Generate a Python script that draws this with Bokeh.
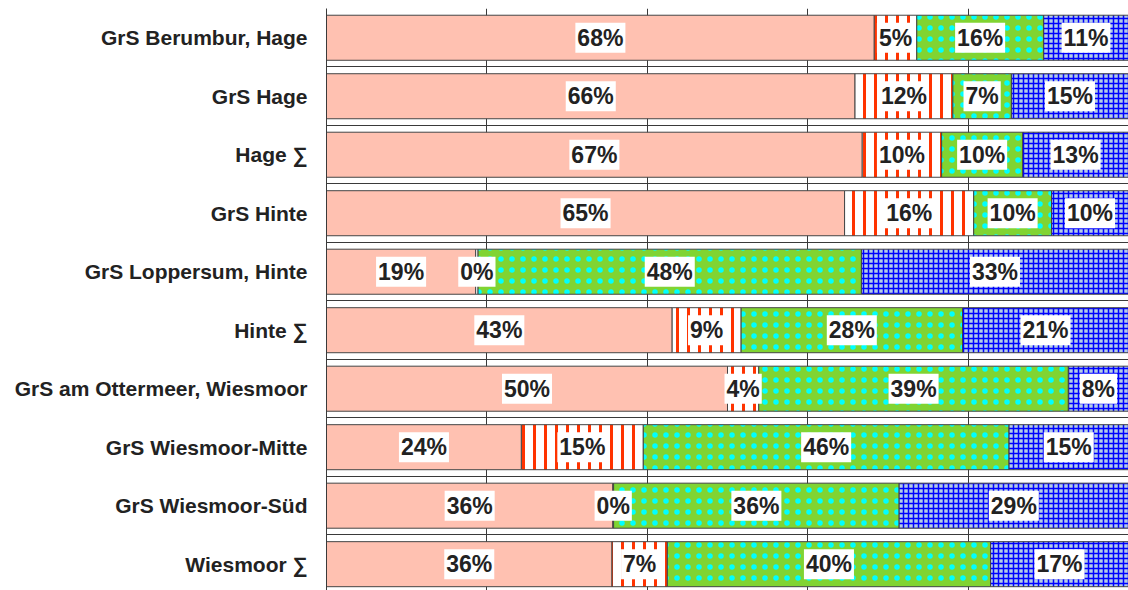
import numpy as np
from bokeh.plotting import figure
from bokeh.models import FixedTicker, Grid, ColumnDataSource
from bokeh.core.properties import value
from bokeh.embed import file_html
from bokeh.resources import INLINE

categories = [
    "GrS Berumbur, Hage",
    "GrS Hage",
    "Hage \u2211",
    "GrS Hinte",
    "GrS Loppersum, Hinte",
    "Hinte \u2211",
    "GrS am Ottermeer, Wiesmoor",
    "GrS Wiesmoor-Mitte",
    "GrS Wiesmoor-S\u00fcd",
    "Wiesmoor \u2211",
]
seg1 = [68.3, 65.9, 66.8, 64.6, 18.6, 43.1, 50.0, 24.3, 35.7, 35.6]
seg2 = [5.3, 12.2, 9.9, 16.1, 0.3, 8.6, 3.9, 15.2, 0.1, 6.9]
seg3 = [15.8, 7.3, 10.1, 9.7, 47.8, 27.6, 38.6, 45.6, 35.6, 40.3]
seg4 = [10.6, 14.6, 13.2, 9.6, 33.3, 20.7, 7.5, 14.9, 28.6, 17.2]

n = len(categories)
ypos = np.array([n - 0.5 - i for i in range(n)])

p = figure(width=1128, height=590, x_range=(0, 100), y_range=(0.05, n),
           output_backend="svg", toolbar_location=None,
           min_border_left=326, min_border_right=0, min_border_top=8, min_border_bottom=0)
p.outline_line_color = None
p.background_fill_color = "white"
p.xaxis.visible = False

grid_color = "#3a3a3a"
p.xgrid.ticker = FixedTicker(ticks=[20, 40, 60, 80, 100])
p.xgrid.grid_line_color = grid_color
p.xgrid.grid_line_width = 1
p.ygrid.grid_line_color = None
p.add_layout(Grid(dimension=1, ticker=FixedTicker(ticks=list(range(n + 1))),
                  grid_line_color=grid_color, grid_line_width=1))

yax = p.yaxis[0]
yax.ticker = FixedTicker(ticks=list(ypos))
yax.major_label_overrides = {float(y): c for y, c in zip(ypos, categories)}
yax.major_tick_out = 0
yax.major_tick_in = 0
yax.minor_tick_out = 0
yax.minor_tick_in = 0
yax.major_label_standoff = 19
yax.axis_line_color = grid_color
yax.major_label_text_font = "Liberation Sans"
yax.major_label_text_font_style = "bold"
yax.major_label_text_font_size = "21px"
yax.major_label_text_color = "#222222"

styles = [
    dict(fill_color="#FFC1B1"),
    dict(fill_color="white", hatch_pattern="|", hatch_color="#FF3300", hatch_scale=11, hatch_weight=3),
    dict(fill_color="#80D432", hatch_pattern=".", hatch_color="#00FFFF", hatch_scale=11, hatch_weight=2.5),
    dict(fill_color="#B4CCE6", hatch_pattern="+", hatch_color="#0000FF", hatch_scale=5, hatch_weight=1.5),
]

segs = [np.array(seg1), np.array(seg2), np.array(seg3), np.array(seg4)]
left = np.zeros(n)
lx, ly, lt = [], [], []
for s, st in zip(segs, styles):
    right = left + s
    src = ColumnDataSource(dict(y=ypos, left=left, right=right))
    p.hbar(y="y", left="left", right="right", height=0.77, source=src,
           line_color="#444444", line_width=1, **st)
    for yy, l0, r0, v in zip(ypos, left, right, s):
        lx.append((l0 + r0) / 2)
        ly.append(yy)
        lt.append(f"{round(v):.0f}%")
    left = right

lsrc = ColumnDataSource(dict(x=lx, y=ly, t=lt))
p.text(x="x", y="y", text="t", source=lsrc, text_align="center", text_baseline="middle",
       text_font=value("Liberation Sans"), text_font_style="bold", text_font_size="23px",
       text_color="#222222", background_fill_color="white", padding=2)

open("out.html", "w").write(file_html(p, INLINE))
